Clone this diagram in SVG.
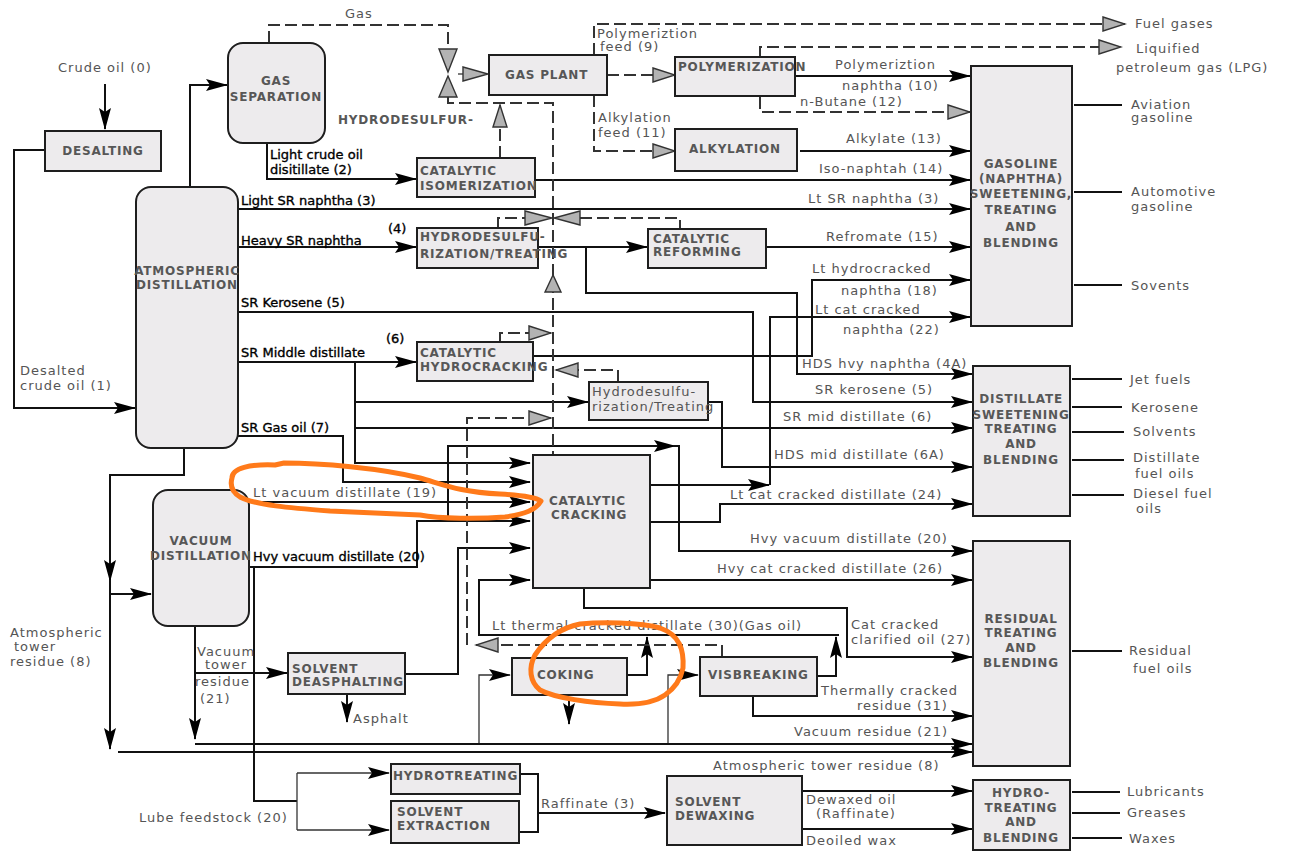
<svg xmlns="http://www.w3.org/2000/svg" width="1294" height="852" viewBox="0 0 1294 852">
<defs>
<style>
.box{fill:#edebed;stroke:#1e1e1e;stroke-width:2}
.ln{fill:none;stroke:#111;stroke-width:2}
.th{fill:none;stroke:#333;stroke-width:1.3}
.dl{fill:none;stroke:#333;stroke-width:2;stroke-dasharray:12 5}
.gv{fill:#b3b3b3;stroke:#333;stroke-width:1.4}
.bl{font-family:"DejaVu Sans",sans-serif;font-size:12px;font-weight:bold;fill:#575757;letter-spacing:0.8px}
.bc{text-anchor:middle}
.t{font-family:"DejaVu Sans",sans-serif;font-size:13px;fill:#555;letter-spacing:1px}
.k{font-family:"DejaVu Sans",sans-serif;font-size:13px;fill:#000;stroke:#000;stroke-width:0.35}
.or{fill:none;stroke:#ff7a1a;stroke-width:5;stroke-linejoin:round}
</style>
<marker id="ab" markerUnits="userSpaceOnUse" markerWidth="22" markerHeight="14" refX="21" refY="7" orient="auto"><path d="M0,1 L22,7 L0,13 L4,7 z" fill="#000"/></marker>
<marker id="ag" markerUnits="userSpaceOnUse" markerWidth="26" markerHeight="18" refX="24" refY="9" orient="auto"><path d="M2,2 L24,9 L2,16 z" fill="#b3b3b3" stroke="#333" stroke-width="1.4"/></marker>
</defs>
<rect width="1294" height="852" fill="#fff"/>

<g id="connectors">
<path class="ln" d="M105,84 V129" marker-end="url(#ab)"/>
<path class="ln" d="M45,150 H14 V408 H135" marker-end="url(#ab)"/>
<path class="ln" d="M190,187 V85 H227" marker-end="url(#ab)"/>
<path class="ln" d="M267,143 V179 H416" marker-end="url(#ab)"/>
<path class="ln" d="M535,180 H970" marker-end="url(#ab)"/>
<path class="ln" d="M238,209 H970" marker-end="url(#ab)"/>
<path class="ln" d="M238,247 H416" marker-end="url(#ab)"/>
<path class="ln" d="M538,247 H647" marker-end="url(#ab)"/>
<path class="ln" d="M586,247 V293 H797 V374 H972" marker-end="url(#ab)"/>
<path class="ln" d="M766,247 H970" marker-end="url(#ab)"/>
<path class="ln" d="M795,76 H970" marker-end="url(#ab)"/>
<path class="ln" d="M800,151 H970" marker-end="url(#ab)"/>
<path class="ln" d="M238,312 H753 V402 H972" marker-end="url(#ab)"/>
<path class="ln" d="M238,362 H416" marker-end="url(#ab)"/>
<path class="ln" d="M355,362 V463 H530" marker-end="url(#ab)"/>
<path class="ln" d="M355,402 H588" marker-end="url(#ab)"/>
<path class="ln" d="M355,428 H972" marker-end="url(#ab)"/>
<path class="ln" d="M533,356 H812 V280 H970" marker-end="url(#ab)"/>
<path class="ln" d="M708,402 H722 V467 H972" marker-end="url(#ab)"/>
<path class="ln" d="M238,436 H343 V482 H530" marker-end="url(#ab)"/>
<path class="ln" d="M249,502 H530" marker-end="url(#ab)"/>
<path class="ln" d="M249,567 H417 V521 H530" marker-end="url(#ab)"/>
<path class="ln" d="M448,521 V446 H675" marker-end="url(#ab)"/>
<path class="ln" d="M673,446 H679 V551 H972" marker-end="url(#ab)"/>
<path class="ln" d="M254,567 V801 H297"/>
<path class="th" d="M297,773 V830"/>
<path class="th" d="M297,773 H389" marker-end="url(#ab)"/>
<path class="th" d="M297,830 H389" marker-end="url(#ab)"/>
<path class="ln" d="M651,485 H769" marker-end="url(#ab)"/>
<path class="ln" d="M770,485 V317 H970" marker-end="url(#ab)"/>
<path class="ln" d="M651,522 H720 V504 H972" marker-end="url(#ab)"/>
<path class="ln" d="M651,580 H972" marker-end="url(#ab)"/>
<path class="ln" d="M584,588 V608 H847 V657 H972" marker-end="url(#ab)"/>
<path class="ln" d="M839,635 H479 V580 H530" marker-end="url(#ab)"/>
<path class="ln" d="M817,676 H836 V637" marker-end="url(#ab)"/>
<path class="ln" d="M627,675 H647 V637" marker-end="url(#ab)"/>
<path class="th" d="M479,744 V675 H510" marker-end="url(#ab)"/>
<path class="th" d="M668,744 V675 H698" marker-end="url(#ab)"/>
<path class="ln" d="M569,697 V724" marker-end="url(#ab)"/>
<path class="ln" d="M753,696 V716 H972" marker-end="url(#ab)"/>
<path class="ln" d="M195,625 V739" marker-end="url(#ab)"/>
<path class="ln" d="M195,673 H287" marker-end="url(#ab)"/>
<path class="ln" d="M195,744 H972" marker-end="url(#ab)"/>
<path class="ln" d="M184,448 V475 H110 V581" marker-end="url(#ab)"/>
<path class="ln" d="M110,580 V749" marker-end="url(#ab)"/>
<path class="ln" d="M110,594 H151" marker-end="url(#ab)"/>
<path class="ln" d="M118,752 H972" marker-end="url(#ab)"/>
<path class="ln" d="M405,674 H458 V548 H530" marker-end="url(#ab)"/>
<path class="ln" d="M347,695 V722" marker-end="url(#ab)"/>
<path class="ln" d="M520,774 H538 V832 H519"/>
<path class="ln" d="M538,813 H665" marker-end="url(#ab)"/>
<path class="ln" d="M802,791 H972" marker-end="url(#ab)"/>
<path class="ln" d="M802,829 H972" marker-end="url(#ab)"/>
<path class="ln" d="M1074,105 H1122 M1074,192 H1122 M1074,285 H1122 M1072,379 H1122 M1072,407 H1122 M1072,432 H1124 M1072,460 H1124 M1072,495 H1124 M1072,651 H1122 M1072,792 H1120 M1072,813 H1120 M1072,838 H1122"/>
<path class="dl" d="M269,43 V25 H448 V49"/>
<path class="dl" d="M448,97 V103 H553 V455"/>
<path class="dl" d="M594,55 V24 H1125" marker-end="url(#ag)"/>
<path class="dl" d="M607,75 H675" marker-end="url(#ag)"/>
<path class="dl" d="M594,95 V151 H675" marker-end="url(#ag)"/>
<path class="dl" d="M760,57 V47 H1121" marker-end="url(#ag)"/>
<path class="dl" d="M760,97 V112 H970" marker-end="url(#ag)"/>
<path class="dl" d="M500,158 V105" marker-end="url(#ag)"/>
<path class="dl" d="M498,228 V218 H525 M580,218 H680 V229"/>
<path class="dl" d="M500,342 V333 H551" marker-end="url(#ag)"/>
<path class="dl" d="M618,382 V370 H556" marker-end="url(#ag)"/>
<path class="dl" d="M722,657 V645 H476" marker-end="url(#ag)"/>
<path class="dl" d="M467,645 V418 H551" marker-end="url(#ag)"/>
<path class="th" d="M458,74 H463"/>
<polygon class="gv" points="463,67 463,81 488,74"/>
<polygon class="gv" points="439,49 457,49 448,72"/>
<polygon class="gv" points="448,76 439,97 457,97"/>
<polygon class="gv" points="525,211 525,225 552,218"/>
<polygon class="gv" points="580,211 580,225 554,218"/>
<polygon class="gv" points="553,275 545,292 561,292"/>
</g>

<g id="desalting"><rect class="box" x="45" y="131" width="116" height="40"/><text class="bl bc" x="103" y="155">DESALTING</text></g>
<g id="gas-separation"><rect class="box" x="228" y="43" width="97" height="100" rx="15"/><text class="bl bc" x="276" y="85">GAS</text><text class="bl bc" x="276" y="101">SEPARATION</text></g>
<g id="atmospheric-distillation"><rect class="box" x="136" y="187" width="102" height="261" rx="15"/><text class="bl bc" x="187" y="275">ATMOSPHERIC</text><text class="bl bc" x="187" y="289">DISTILLATION</text></g>
<g id="vacuum-distillation"><rect class="box" x="153" y="490" width="96" height="136" rx="15"/><text class="bl bc" x="201" y="545">VACUUM</text><text class="bl bc" x="201" y="560">DISTILLATION</text></g>
<g id="gas-plant"><rect class="box" x="489" y="55" width="118" height="40"/><text class="bl" x="505" y="79">GAS PLANT</text></g>
<g id="catalytic-isomerization"><rect class="box" x="417" y="158" width="118" height="39"/><text class="bl" x="420" y="175">CATALYTIC</text><text class="bl" x="420" y="190">ISOMERIZATION</text></g>
<g id="hydrodesulfurization-treating"><rect class="box" x="417" y="228" width="121" height="40"/><text class="bl" x="420" y="241">HYDRODESULFU-</text><text class="bl" x="420" y="258">RIZATION/TREATING</text></g>
<g id="catalytic-reforming"><rect class="box" x="648" y="229" width="118" height="39"/><text class="bl" x="653" y="243">CATALYTIC</text><text class="bl" x="653" y="256">REFORMING</text></g>
<g id="polymerization"><rect class="box" x="675" y="57" width="120" height="39"/><text class="bl" x="678" y="71">POLYMERIZATION</text></g>
<g id="alkylation"><rect class="box" x="675" y="129" width="122" height="42"/><text class="bl" x="689" y="153">ALKYLATION</text></g>
<g id="catalytic-hydrocracking"><rect class="box" x="417" y="342" width="116" height="39"/><text class="bl" x="420" y="357">CATALYTIC</text><text class="bl" x="420" y="371">HYDROCRACKING</text></g>
<g id="hydrodesulfurization-treating-2"><rect class="box" x="589" y="382" width="119" height="38"/><text class="t" x="592" y="396">Hydrodesulfu-</text><text class="t" x="592" y="411">rization/Treating</text></g>
<g id="catalytic-cracking"><rect class="box" x="533" y="455" width="117" height="133"/><text class="bl" x="549" y="505">CATALYTIC</text><text class="bl" x="551" y="519">CRACKING</text></g>
<g id="solvent-deasphalting"><rect class="box" x="288" y="653" width="117" height="41"/><text class="bl" x="292" y="673">SOLVENT</text><text class="bl" x="292" y="686">DEASPHALTING</text></g>
<g id="coking"><rect class="box" x="512" y="658" width="115" height="37"/><text class="bl" x="537" y="679">COKING</text></g>
<g id="visbreaking"><rect class="box" x="700" y="657" width="117" height="39"/><text class="bl" x="708" y="679">VISBREAKING</text></g>
<g id="hydrotreating"><rect class="box" x="391" y="764" width="129" height="30"/><text class="bl" x="393" y="780">HYDROTREATING</text></g>
<g id="solvent-extraction"><rect class="box" x="391" y="801" width="128" height="42"/><text class="bl" x="397" y="816">SOLVENT</text><text class="bl" x="397" y="830">EXTRACTION</text></g>
<g id="solvent-dewaxing"><rect class="box" x="667" y="776" width="135" height="69"/><text class="bl" x="675" y="806">SOLVENT</text><text class="bl" x="675" y="820">DEWAXING</text></g>
<g id="gasoline-blending"><rect class="box" x="971" y="66" width="101" height="260"/><text class="bl bc" x="1021" y="168">GASOLINE</text><text class="bl bc" x="1021" y="183">(NAPHTHA)</text><text class="bl bc" x="1021" y="198">SWEETENING,</text><text class="bl bc" x="1021" y="214">TREATING</text><text class="bl bc" x="1021" y="231">AND</text><text class="bl bc" x="1021" y="247">BLENDING</text></g>
<g id="distillate-blending"><rect class="box" x="973" y="366" width="97" height="150"/><text class="bl bc" x="1021" y="403">DISTILLATE</text><text class="bl bc" x="1021" y="419">SWEETENING</text><text class="bl bc" x="1021" y="433">TREATING</text><text class="bl bc" x="1021" y="448">AND</text><text class="bl bc" x="1021" y="464">BLENDING</text></g>
<g id="residual-blending"><rect class="box" x="973" y="541" width="97" height="225"/><text class="bl bc" x="1021" y="623">RESIDUAL</text><text class="bl bc" x="1021" y="637">TREATING</text><text class="bl bc" x="1021" y="652">AND</text><text class="bl bc" x="1021" y="667">BLENDING</text></g>
<g id="hydrotreating-blending"><rect class="box" x="973" y="780" width="97" height="70"/><text class="bl bc" x="1021" y="797">HYDRO-</text><text class="bl bc" x="1021" y="812">TREATING</text><text class="bl bc" x="1021" y="826">AND</text><text class="bl bc" x="1021" y="842">BLENDING</text></g>

<g id="labels">
<text class="t" x="58" y="72">Crude oil (0)</text>
<text class="t" x="345" y="18">Gas</text>
<text class="bl" x="338" y="124">HYDRODESULFUR-</text>
<text class="k" x="270" y="159">Light crude oil</text>
<text class="k" x="270" y="174">disitillate (2)</text>
<text class="k" x="241" y="205">Light SR naphtha (3)</text>
<text class="k" x="241" y="245">Heavy SR naphtha</text>
<text class="k" x="388" y="233">(4)</text>
<text class="k" x="241" y="307">SR Kerosene (5)</text>
<text class="k" x="241" y="357">SR Middle distillate</text>
<text class="k" x="386" y="343">(6)</text>
<text class="k" x="241" y="432">SR Gas oil (7)</text>
<text class="t" x="20" y="375">Desalted</text>
<text class="t" x="20" y="390">crude oil (1)</text>
<text class="t" x="253" y="497">Lt vacuum distillate (19)</text>
<text class="k" x="253" y="561">Hvy vacuum distillate (20)</text>
<text class="t" x="10" y="637">Atmospheric</text>
<text class="t" x="14" y="651">tower</text>
<text class="t" x="10" y="666">residue (8)</text>
<text class="t" x="197" y="656">Vacuum</text>
<text class="t" x="205" y="669">tower</text>
<text class="t" x="195" y="686">residue</text>
<text class="t" x="200" y="703">(21)</text>
<text class="t" x="353" y="723">Asphalt</text>
<text class="t" x="139" y="822">Lube feedstock (20)</text>
<text class="t" x="541" y="808">Raffinate (3)</text>
<text class="t" x="806" y="804">Dewaxed oil</text>
<text class="t" x="816" y="818">(Raffinate)</text>
<text class="t" x="806" y="845">Deoiled wax</text>
<text class="t" x="597" y="38">Polymeriztion</text>
<text class="t" x="600" y="51">feed (9)</text>
<text class="t" x="598" y="122">Alkylation</text>
<text class="t" x="598" y="137">feed (11)</text>
<text class="t" x="835" y="69">Polymeriztion</text>
<text class="t" x="842" y="90">naphtha (10)</text>
<text class="t" x="800" y="106">n-Butane (12)</text>
<text class="t" x="846" y="143">Alkylate (13)</text>
<text class="t" x="819" y="173">Iso-naphtah (14)</text>
<text class="t" x="808" y="203">Lt SR naphtha (3)</text>
<text class="t" x="826" y="241">Refromate (15)</text>
<text class="t" x="812" y="273">Lt hydrocracked</text>
<text class="t" x="841" y="295">naphtha (18)</text>
<text class="t" x="815" y="314">Lt cat cracked</text>
<text class="t" x="843" y="334">naphtha (22)</text>
<text class="t" x="802" y="368">HDS hvy naphtha (4A)</text>
<text class="t" x="815" y="394">SR kerosene (5)</text>
<text class="t" x="783" y="421">SR mid distillate (6)</text>
<text class="t" x="774" y="459">HDS mid distillate (6A)</text>
<text class="t" x="730" y="499">Lt cat cracked distillate (24)</text>
<text class="t" x="750" y="543">Hvy vacuum distillate (20)</text>
<text class="t" x="717" y="573">Hvy cat cracked distillate (26)</text>
<text class="t" x="492" y="630" letter-spacing="1.3">Lt thermal cracked distillate (30)(Gas oil)</text>
<text class="t" x="851" y="629">Cat cracked</text>
<text class="t" x="851" y="644">clarified oil (27)</text>
<text class="t" x="821" y="695">Thermally cracked</text>
<text class="t" x="857" y="710">residue (31)</text>
<text class="t" x="794" y="736">Vacuum residue (21)</text>
<text class="t" x="713" y="770">Atmospheric tower residue (8)</text>
<text class="t" x="1135" y="28">Fuel gases</text>
<text class="t" x="1136" y="53">Liquified</text>
<text class="t" x="1116" y="72">petroleum gas (LPG)</text>
<text class="t" x="1131" y="109">Aviation</text>
<text class="t" x="1131" y="122">gasoline</text>
<text class="t" x="1131" y="196">Automotive</text>
<text class="t" x="1131" y="211">gasoline</text>
<text class="t" x="1131" y="290">Sovents</text>
<text class="t" x="1130" y="384">Jet fuels</text>
<text class="t" x="1131" y="412">Kerosene</text>
<text class="t" x="1133" y="436">Solvents</text>
<text class="t" x="1133" y="462">Distillate</text>
<text class="t" x="1135" y="478">fuel oils</text>
<text class="t" x="1133" y="498">Diesel fuel</text>
<text class="t" x="1136" y="513">oils</text>
<text class="t" x="1129" y="655">Residual</text>
<text class="t" x="1133" y="673">fuel oils</text>
<text class="t" x="1127" y="796">Lubricants</text>
<text class="t" x="1127" y="817">Greases</text>
<text class="t" x="1129" y="843">Waxes</text>
</g>

<g id="highlights">
<path class="or" d="M232,478 C232,468 250,464 275,465 L284,463 C320,463 380,468 420,478 C445,485 460,492 500,494 C520,495 535,497 541,501 C536,510 525,514 505,517 C480,519 440,519 420,515 L330,511 C290,508 255,505 240,497 C232,492 230,485 232,478 Z"/>
<path class="or" d="M683,668 C684,650 680,635 660,628 C640,622 600,622 580,624 C560,628 545,640 535,655 C528,668 530,682 540,690 C555,698 590,703 620,704 C640,705 655,702 665,695 C675,688 681,678 683,668 Z"/>
</g>
</svg>
